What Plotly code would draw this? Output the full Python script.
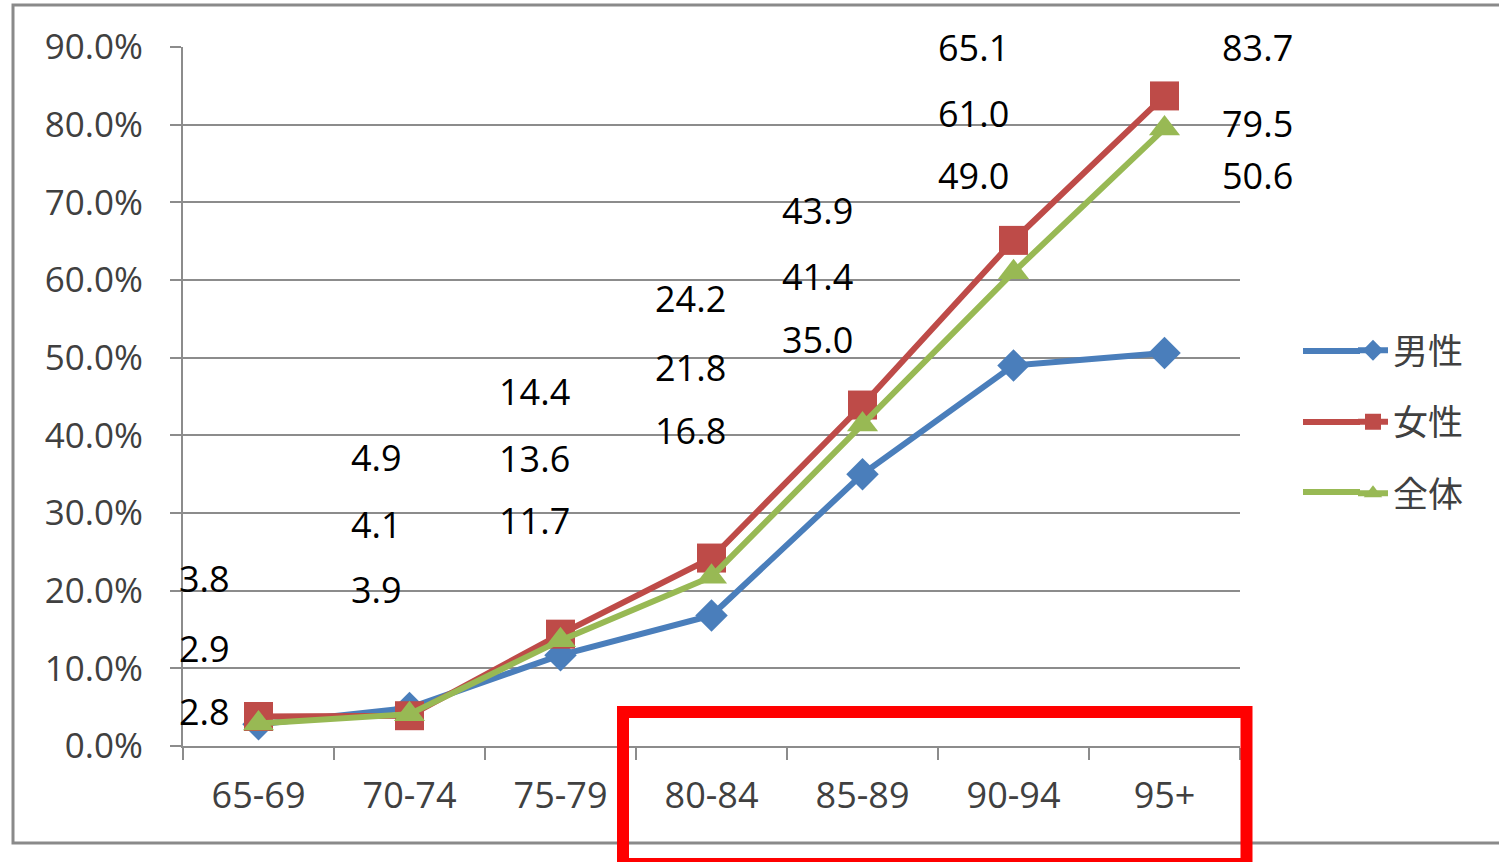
import plotly.graph_objects as go

# ---- data ----
categories = ["65-69", "70-74", "75-79", "80-84", "85-89", "90-94", "95+"]
male = [2.8, 4.9, 11.7, 16.8, 35.0, 49.0, 50.6]
female = [3.8, 3.9, 14.4, 24.2, 43.9, 65.1, 83.7]
total = [2.9, 4.1, 13.6, 21.8, 41.4, 61.0, 79.5]
y_ticks = [0, 10, 20, 30, 40, 50, 60, 70, 80, 90]
y_tick_text = ["0.0%", "10.0%", "20.0%", "30.0%", "40.0%", "50.0%",
               "60.0%", "70.0%", "80.0%", "90.0%"]

# label text stacks (top to bottom) per category, as shown in the source
label_top = ["3.8", "4.9", "14.4", "24.2", "43.9", "65.1", "83.7"]
label_mid = ["2.9", "4.1", "13.6", "21.8", "41.4", "61.0", "79.5"]
label_bot = ["2.8", "3.9", "11.7", "16.8", "35.0", "49.0", "50.6"]

# ---- label placement (layout only) ----
label_y_top = [21.6, 37.1, 45.7, 57.6, 69.0, 90.0, 90.0]
label_y_mid = [12.6, 28.5, 37.0, 48.7, 60.4, 81.5, 80.2]
label_y_bot = [4.5, 20.2, 29.0, 40.6, 52.3, 73.4, 73.4]
label_xshift = [-54, -33, -26, -21, -45, -40, 93]

W, H = 1499, 862
PL, PR, PT, PB = 183, 1240, 47, 746  # plot area in pixels

def px_x(px):
    return (px - PL) / (PR - PL)

def px_y(py):
    return (PB - py) / (PB - PT)

FONT = "Open Sans, Noto Sans CJK JP, sans-serif"
GRID = "#8c8c8c"

fig = go.Figure()
series = [
    ("男性", male, "#4A7EBB", "diamond", 25),
    ("女性", female, "#BE4B48", "square", 29),
    ("全体", total, "#98B954", "triangle-up", 27),
]
for name, vals, color, sym, size in series:
    fig.add_trace(go.Scatter(
        x=categories, y=vals, name=name, mode="lines+markers",
        legendgroup=name,
        line=dict(color=color, width=6),
        marker=dict(symbol=sym, size=size, color=color, line=dict(width=0)),
    ))

annotations = []
for i, cat in enumerate(categories):
    for txt, yy in ((label_top[i], label_y_top[i]),
                    (label_mid[i], label_y_mid[i]),
                    (label_bot[i], label_y_bot[i])):
        annotations.append(dict(
            x=cat, y=yy, xref="x", yref="y", text=txt, showarrow=False,
            xshift=label_xshift[i], xanchor="center", yanchor="middle",
            font=dict(family=FONT, size=36, color="#000000"),
        ))

shapes = [
    # outer chart frame
    dict(type="rect", xref="paper", yref="paper",
         x0=px_x(13), x1=px_x(1515), y0=px_y(843), y1=px_y(5),
         line=dict(color="#8a8a8a", width=3), layer="below"),
    # red highlight box
    dict(type="rect", xref="paper", yref="paper",
         x0=px_x(623), x1=px_x(1246.5), y0=px_y(864), y1=px_y(712),
         line=dict(color="#FF0000", width=12), layer="above"),
]
# lengthen the legend key lines (decoration only)
for (name, vals, color, sym, size), ly in zip(series, [351, 422, 492]):
    shapes.append(dict(type="line", xref="paper", yref="paper",
                       x0=px_x(1303), x1=px_x(1360), y0=px_y(ly), y1=px_y(ly),
                       line=dict(color=color, width=6)))

fig.update_layout(
    width=W, height=H,
    margin=dict(l=PL, r=W - PR, t=PT, b=H - PB, pad=0),
    paper_bgcolor="white", plot_bgcolor="white",
    font=dict(family=FONT, size=34, color="#404040"),
    showlegend=True,
    legend=dict(
        x=px_x(1353), y=px_y(422), xanchor="left", yanchor="middle",
        font=dict(family=FONT, size=35, color="#404040"),
        tracegroupgap=23, itemwidth=30, bgcolor="rgba(0,0,0,0)",
    ),
    annotations=annotations,
    shapes=shapes,
)
fig.update_xaxes(
    type="category", range=[-0.5, len(categories) - 0.5],
    showgrid=False, showline=True, linecolor=GRID, linewidth=2,
    ticks="outside", tickson="boundaries", ticklen=12, tickcolor=GRID, tickwidth=2,
    ticklabelstandoff=17,
    tickfont=dict(family=FONT, size=36, color="#404040"),
    zeroline=False,
)
fig.update_yaxes(
    range=[0, 90], tickmode="array", tickvals=y_ticks, ticktext=y_tick_text,
    showgrid=True, gridcolor=GRID, gridwidth=2,
    showline=True, linecolor=GRID, linewidth=2,
    ticks="outside", ticklen=11, tickcolor=GRID, tickwidth=2,
    ticklabelstandoff=20,
    tickfont=dict(family=FONT, size=35, color="#404040"),
    zeroline=False,
)

fig.write_html("out.html")
